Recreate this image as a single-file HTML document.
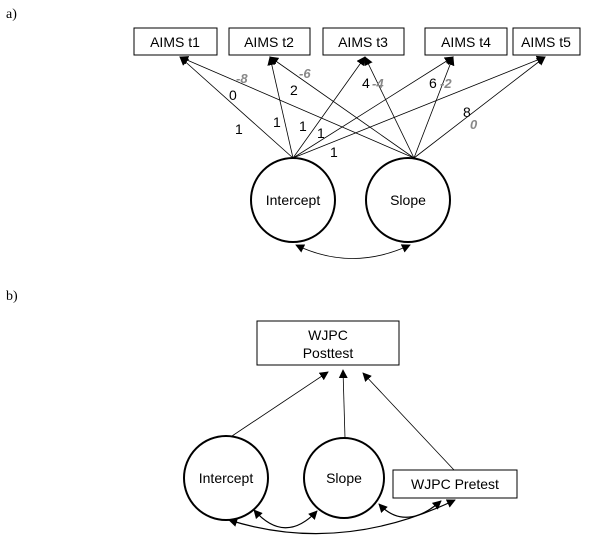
<!DOCTYPE html>
<html><head><style>
body{margin:0;background:#fff;width:601px;height:549px;overflow:hidden}
svg{font-family:"Liberation Sans",sans-serif}
</style></head><body>
<svg width="601" height="549" viewBox="0 0 601 549">
<defs>
<marker id="a" viewBox="0 0 10 10" refX="9" refY="5" markerWidth="9" markerHeight="9" orient="auto-start-reverse" markerUnits="userSpaceOnUse"><path d="M0,0L10,5L0,10z" fill="#000"/></marker>
</defs>
<text x="6" y="18" font-family="Liberation Serif" font-size="14">a)</text>
<text x="6" y="300" font-family="Liberation Serif" font-size="14">b)</text>
<g fill="#fff" stroke="#000" stroke-width="1">
<rect x="134" y="28" width="83" height="27"/>
<rect x="229" y="28" width="81" height="27"/>
<rect x="323" y="28" width="81" height="27"/>
<rect x="425" y="28" width="82" height="27"/>
<rect x="513" y="28" width="67" height="27"/>
</g>
<g font-size="14" text-anchor="middle">
<text x="175" y="47">AIMS t1</text><text x="269" y="47">AIMS t2</text><text x="363" y="47">AIMS t3</text><text x="466" y="47">AIMS t4</text><text x="546" y="47">AIMS t5</text>
</g>
<g stroke="#000" stroke-width="0.8" marker-end="url(#a)">
<line x1="293" y1="158" x2="180" y2="57"/>
<line x1="293" y1="158" x2="270" y2="57"/>
<line x1="293" y1="158" x2="365" y2="57"/>
<line x1="293" y1="158" x2="453" y2="57"/>
<line x1="293" y1="158" x2="545" y2="57"/>
<line x1="414" y1="158" x2="180" y2="57"/>
<line x1="414" y1="158" x2="270" y2="57"/>
<line x1="414" y1="158" x2="365" y2="57"/>
<line x1="414" y1="158" x2="453" y2="57"/>
<line x1="414" y1="158" x2="545" y2="57"/>
</g>
<circle cx="293" cy="200" r="42" fill="#fff" stroke="#000" stroke-width="2"/>
<circle cx="408" cy="200" r="42" fill="#fff" stroke="#000" stroke-width="2"/>
<text x="293" y="205" font-size="14" text-anchor="middle">Intercept</text>
<text x="408" y="205" font-size="14" text-anchor="middle">Slope</text>
<path d="M296,245 Q352,272 410,245" fill="none" stroke="#000" stroke-width="0.8" marker-start="url(#a)" marker-end="url(#a)"/>
<g font-size="14">
<text x="229" y="100">0</text><text x="290" y="95">2</text><text x="362" y="88">4</text><text x="429" y="88">6</text><text x="463" y="117">8</text>
<text x="235" y="134">1</text><text x="273" y="127">1</text><text x="299" y="131">1</text><text x="317" y="138">1</text><text x="330" y="157">1</text>
</g>
<g font-size="13" font-style="italic" font-weight="bold" fill="#888">
<text x="236" y="83">-8</text><text x="299" y="78">-6</text><text x="372" y="88">-4</text><text x="440" y="88">-2</text><text x="470" y="129">0</text>
</g>
<rect x="257" y="321" width="142" height="44" fill="#fff" stroke="#000"/>
<text x="328" y="340" font-size="14" text-anchor="middle">WJPC</text>
<text x="328" y="358" font-size="14" text-anchor="middle">Posttest</text>
<g stroke="#000" stroke-width="0.8" marker-end="url(#a)">
<line x1="229" y1="438" x2="328" y2="372"/>
<line x1="345" y1="438" x2="343" y2="370"/>
<line x1="454" y1="470" x2="363" y2="373"/>
</g>
<circle cx="226" cy="478" r="42" fill="#fff" stroke="#000" stroke-width="2"/>
<circle cx="344" cy="478" r="40" fill="#fff" stroke="#000" stroke-width="2"/>
<rect x="393" y="470" width="124" height="28" fill="#fff" stroke="#000"/>
<text x="226" y="483" font-size="14" text-anchor="middle">Intercept</text>
<text x="344" y="483" font-size="14" text-anchor="middle">Slope</text>
<text x="455" y="489" font-size="14" text-anchor="middle">WJPC Pretest</text>
<g fill="none" stroke="#000" stroke-width="1.2" marker-start="url(#a)" marker-end="url(#a)">
<path d="M254,510 Q285,545 317,511"/>
<path d="M379,504 Q405,532 441,501"/>
<path d="M229,520 Q340,555 455,500"/>
</g>
</svg>
</body></html>
